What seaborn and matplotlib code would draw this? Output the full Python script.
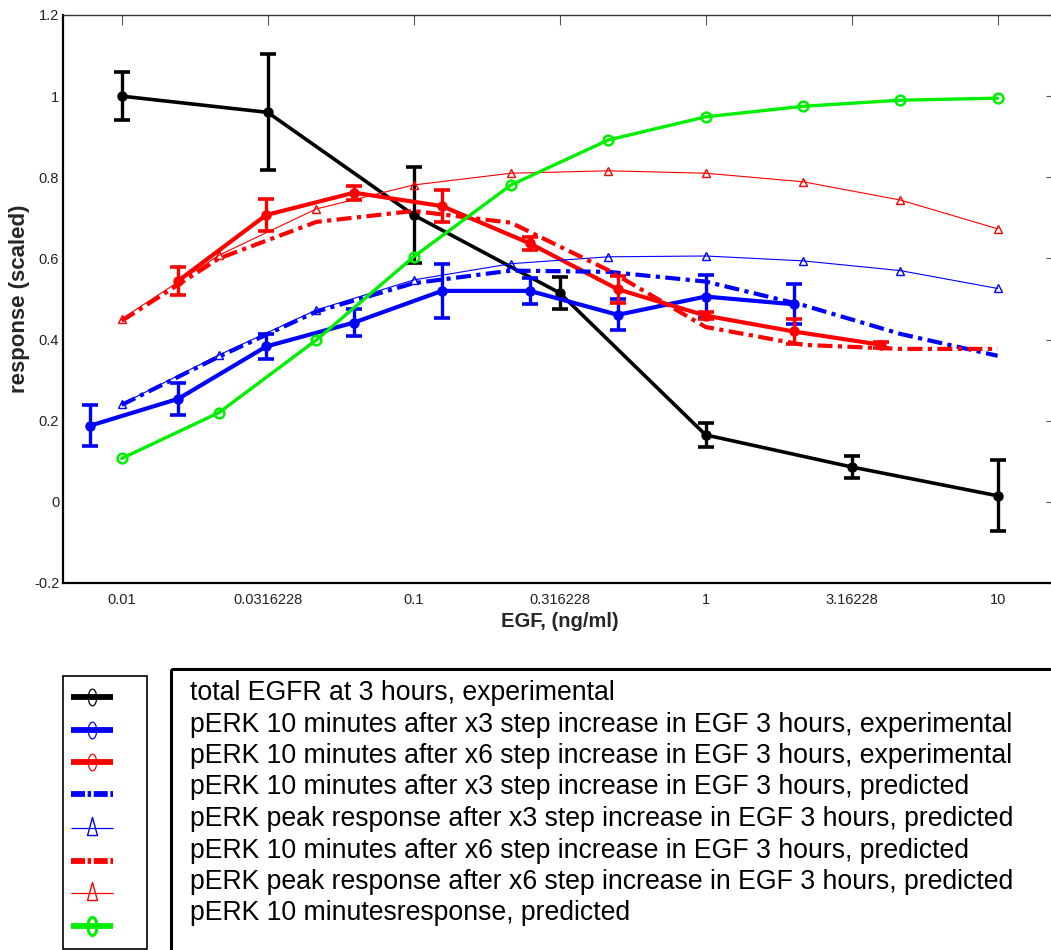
import numpy as np
import matplotlib
matplotlib.use("Agg")
import matplotlib.pyplot as plt
from matplotlib.patches import Rectangle
from matplotlib.ticker import FixedLocator, FixedFormatter, NullLocator
import seaborn as sns

# EGF doses (ng/ml) and measured / simulated responses
egf_total = [0.01, 0.0316228, 0.1, 0.316228, 1, 3.16228, 10]
egfr_total = [1.0, 0.96, 0.707, 0.515, 0.165, 0.086, 0.015]
egfr_total_err = [0.06, 0.143, 0.118, 0.04, 0.03, 0.026, 0.088]

egf_x3 = [0.0078125, 0.015625, 0.03125, 0.0625, 0.125, 0.25, 0.5, 1, 2]
perk_x3 = [0.188, 0.254, 0.383, 0.442, 0.52, 0.52, 0.461, 0.506, 0.487]
perk_x3_err = [0.05, 0.04, 0.03, 0.034, 0.066, 0.032, 0.038, 0.053, 0.049]

egf_x6 = [0.015625, 0.03125, 0.0625, 0.125, 0.25, 0.5, 1, 2, 4]
perk_x6 = [0.545, 0.707, 0.762, 0.729, 0.637, 0.524, 0.459, 0.42, 0.387]
perk_x6_err = [0.034, 0.039, 0.017, 0.039, 0.015, 0.033, 0.008, 0.03, 0.007]

egf_model = [0.01, 0.0215443, 0.0464159, 0.1, 0.215443, 0.464159,
             1, 2.15443, 4.64159, 10]
x3_10min = [0.239, 0.358, 0.469, 0.539, 0.57, 0.567, 0.543, 0.485, 0.414, 0.36]
x3_peak = [0.241, 0.362, 0.473, 0.547, 0.587, 0.604, 0.606, 0.594, 0.57, 0.526]
x6_10min = [0.446, 0.6, 0.69, 0.717, 0.688, 0.571, 0.431, 0.387, 0.377, 0.377]
x6_peak = [0.451, 0.608, 0.722, 0.781, 0.81, 0.816, 0.81, 0.789, 0.744, 0.673]
single_10min = [0.107, 0.22, 0.399, 0.604, 0.781, 0.892, 0.949, 0.975, 0.99, 0.995]

x_ticks = [0.01, 0.0316228, 0.1, 0.316228, 1, 3.16228, 10]
x_tick_labels = ["0.01", "0.0316228", "0.1", "0.316228", "1", "3.16228", "10"]
y_ticks = [-0.2, 0, 0.2, 0.4, 0.6, 0.8, 1, 1.2]
y_tick_labels = ["-0.2", "0", "0.2", "0.4", "0.6", "0.8", "1", "1.2"]

labels = [
    "total EGFR at 3 hours, experimental",
    "pERK 10 minutes after x3 step increase in EGF 3 hours, experimental",
    "pERK 10 minutes after x6 step increase in EGF 3 hours, experimental",
    "pERK 10 minutes after x3 step increase in EGF 3 hours, predicted",
    "pERK peak response after x3 step increase in EGF 3 hours, predicted",
    "pERK 10 minutes after x6 step increase in EGF 3 hours, predicted",
    "pERK peak response after x6 step increase in EGF 3 hours, predicted",
    "pERK 10 minutesresponse, predicted",
]

BLACK, BLUE, RED, GREEN = "#000000", "#0000ff", "#ff0000", "#00ee00"
DASHDOT = (0, (3.6, 1.3, 1.0, 1.3))
DASHDOT_KEY = (0, (2.4, 0.45, 0.6, 0.45))

sns.set_style("white")
plt.rcParams["font.family"] = ["Liberation Sans", "DejaVu Sans"]

W, H = 1051, 950
fig = plt.figure(figsize=(W / 100, H / 100), dpi=100)
ax = fig.add_axes([63.3 / W, 1 - 583 / H, (1056 - 63.3) / W, (583 - 15) / H])

styles = [
    dict(color=BLACK, lw=2.6, marker="o", ms=6.5, mfc=BLACK, mec=BLACK, mew=1),
    dict(color=BLUE, lw=3.0, marker="o", ms=6.5, mfc=BLUE, mec=BLUE, mew=1),
    dict(color=RED, lw=3.0, marker="o", ms=6.5, mfc=RED, mec=RED, mew=1),
    dict(color=BLUE, lw=3.0, linestyle=DASHDOT, marker=None),
    dict(color=BLUE, lw=0.8, marker="^", ms=6, mfc="none", mec=BLUE, mew=1),
    dict(color=RED, lw=3.0, linestyle=DASHDOT, marker=None),
    dict(color=RED, lw=0.8, marker="^", ms=6, mfc="none", mec=RED, mew=1),
    dict(color=GREEN, lw=2.4, marker="o", ms=7, mfc="none", mec=GREEN, mew=1.8),
]

# experimental series with error bars
exp_sets = [
    (egf_total, egfr_total, egfr_total_err, styles[0]),
    (egf_x3, perk_x3, perk_x3_err, styles[1]),
    (egf_x6, perk_x6, perk_x6_err, styles[2]),
]
for z, (xs, ys, es, st) in enumerate(exp_sets):
    ax.errorbar(xs, ys, yerr=es, fmt="none", ecolor=st["color"],
                elinewidth=2.4, capsize=6, capthick=2.6, zorder=2 + z)
    sns.lineplot(x=xs, y=ys, ax=ax, estimator=None, sort=False,
                 zorder=2 + z, **st)

# model predictions
model_sets = [
    (x3_10min, styles[3]),
    (x3_peak, styles[4]),
    (x6_10min, styles[5]),
    (x6_peak, styles[6]),
    (single_10min, styles[7]),
]
for z, (ys, st) in enumerate(model_sets):
    sns.lineplot(x=egf_model, y=ys, ax=ax, estimator=None, sort=False,
                 zorder=5 + z, **st)

ax.set_xscale("log")
ax.set_xlim(10 ** -2.2, 10 ** 1.2)
ax.set_ylim(-0.2, 1.2)
ax.xaxis.set_major_locator(FixedLocator(x_ticks))
ax.xaxis.set_major_formatter(FixedFormatter(x_tick_labels))
ax.xaxis.set_minor_locator(NullLocator())
ax.yaxis.set_major_locator(FixedLocator(y_ticks))
ax.yaxis.set_major_formatter(FixedFormatter(y_tick_labels))
ax.tick_params(axis="both", direction="in", top=True, right=True, length=7,
               width=0.8, color="#555555", labelsize=10.5,
               labelcolor="#222222")
ax.tick_params(axis="y", pad=3)
ax.tick_params(axis="x", pad=7)
for side in ["left", "bottom"]:
    ax.spines[side].set_linewidth(1.6)
    ax.spines[side].set_color("black")
for side in ["top", "right"]:
    ax.spines[side].set_linewidth(1.0)
    ax.spines[side].set_color("#333333")

ax.set_xlabel("EGF, (ng/ml)", fontsize=14.5, fontweight="bold", labelpad=4)
ax.set_ylabel("response (scaled)", fontsize=16, fontweight="bold", labelpad=3)

# legend drawn in pixel coordinates of the figure
lax = fig.add_axes([0, 0, 1, 1], zorder=10)
lax.set_xlim(0, W)
lax.set_ylim(H, 0)
lax.axis("off")
lax.add_patch(Rectangle((63, 676), 84, 273, fill=False, lw=1.2, ec="black"))
lax.add_patch(Rectangle((171, 669), 1000, 400, fill=False, lw=2.2, ec="black"))

t = np.linspace(0, 2 * np.pi, 40)
ellipse = np.column_stack([0.5 * np.cos(t), np.sin(t)])
tall_tri = np.array([[-0.55, -1.0], [0.55, -1.0], [0.0, 1.0], [-0.55, -1.0]])

sample_y = [697, 730, 762, 794, 828, 861, 893, 926]
for st, yy in zip(styles, sample_y):
    thin = st["lw"] < 1.5
    dashed = "linestyle" in st
    lax.plot([71, 113], [yy, yy], color=st["color"],
             lw=0.9 if thin else 4.2,
             linestyle=DASHDOT_KEY if dashed else "-",
             solid_capstyle="butt", dash_capstyle="butt")
    if st.get("marker"):
        if st["marker"] == "^":
            lax.plot([92], [yy - 2], marker=tall_tri, ms=13, mfc="none",
                     mec=st["color"], mew=1.0, linestyle="none")
        else:
            green = st["color"] == GREEN
            lax.plot([92], [yy], marker=ellipse, ms=13 if green else 12,
                     mfc="none", mec=st["color"],
                     mew=2.2 if green else 0.9, linestyle="none")

for i, lab in enumerate(labels):
    lax.text(190, 693 + i * 31.5, lab, fontsize=19.2, va="center",
             ha="left", color="black")

fig.savefig("out.png", dpi=100, facecolor="white")
